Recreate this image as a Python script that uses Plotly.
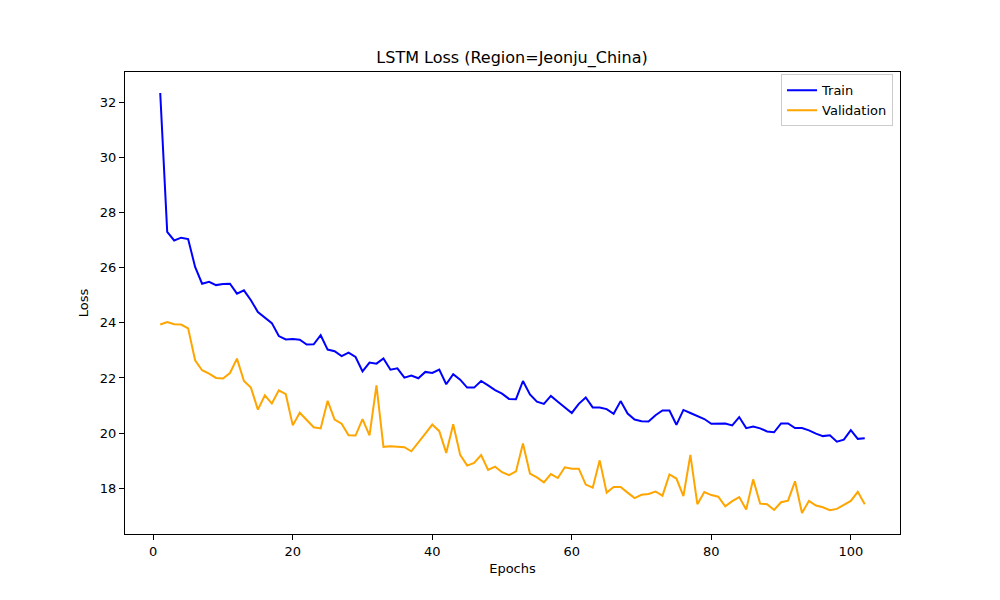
import plotly.graph_objects as go

epochs = list(range(1, 103))

train_loss = [
    32.34, 27.30, 26.99, 27.09, 27.04, 26.03, 25.42, 25.49, 25.37, 25.41,
    25.42, 25.06, 25.18, 24.82, 24.39, 24.19, 23.99, 23.52, 23.40, 23.41,
    23.39, 23.21, 23.22, 23.55, 23.03, 22.97, 22.79, 22.92, 22.76, 22.24,
    22.56, 22.52, 22.71, 22.30, 22.35, 22.01, 22.09, 21.99, 22.22, 22.18,
    22.30, 21.77, 22.14, 21.94, 21.65, 21.65, 21.89, 21.73, 21.56, 21.43,
    21.24, 21.23, 21.89, 21.40, 21.14, 21.06, 21.35, 21.14, 20.94, 20.73,
    21.06, 21.29, 20.93, 20.93, 20.87, 20.70, 21.16, 20.71, 20.49, 20.43,
    20.42, 20.65, 20.82, 20.82, 20.30, 20.84, 20.73, 20.61, 20.51, 20.34,
    20.35, 20.35, 20.28, 20.58, 20.18, 20.24, 20.17, 20.06, 20.03, 20.35,
    20.35, 20.18, 20.18, 20.10, 19.98, 19.89, 19.92, 19.69, 19.76, 20.11,
    19.79, 19.81,
]

val_loss = [
    23.94, 24.03, 23.95, 23.94, 23.80, 22.64, 22.28, 22.16, 22.00, 21.98,
    22.18, 22.70, 21.89, 21.65, 20.85, 21.37, 21.07, 21.55, 21.41, 20.28,
    20.74, 20.47, 20.21, 20.17, 21.17, 20.49, 20.34, 19.92, 19.91, 20.51,
    19.92, 21.73, 19.50, 19.52, 19.50, 19.49, 19.34, 19.64, 19.98, 20.31,
    20.07, 19.28, 20.32, 19.21, 18.82, 18.92, 19.20, 18.66, 18.78, 18.58,
    18.47, 18.61, 19.62, 18.53, 18.39, 18.21, 18.51, 18.37, 18.76, 18.71,
    18.71, 18.13, 18.02, 19.01, 17.84, 18.04, 18.04, 17.84, 17.64, 17.76,
    17.79, 17.88, 17.73, 18.50, 18.35, 17.71, 19.21, 17.42, 17.86, 17.75,
    17.69, 17.34, 17.53, 17.68, 17.23, 18.32, 17.44, 17.42, 17.21, 17.49,
    17.55, 18.25, 17.10, 17.54, 17.37, 17.31, 17.20, 17.25, 17.39, 17.54,
    17.87, 17.42,
]

fig = go.Figure()
fig.add_trace(go.Scatter(x=epochs, y=train_loss, mode='lines', name='Train',
                         line=dict(color='blue', width=2)))
fig.add_trace(go.Scatter(x=epochs, y=val_loss, mode='lines', name='Validation',
                         line=dict(color='orange', width=2)))

# matplotlib-like axis limits (5% margins)
lo = min(min(train_loss), min(val_loss))
hi = max(max(train_loss), max(val_loss))
ypad = (hi - lo) * 0.05
xpad = (epochs[-1] - epochs[0]) * 0.05

axis_style = dict(
    showline=True, linecolor='black', linewidth=1, mirror=True,
    ticks='outside', ticklen=5, tickcolor='black', showgrid=False,
    zeroline=False, tickfont=dict(size=13, color='black'),
)

# page body has an 8px offset, so margins are shifted up/left by 8
fig.update_layout(
    width=1000, height=600,
    paper_bgcolor='white', plot_bgcolor='white',
    font=dict(family='DejaVu Sans', color='black'),
    margin=dict(l=117, r=108, t=64, b=74),
    title=dict(text='LSTM Loss (Region=Jeonju_China)', x=0.504, xanchor='center',
               y=0.908, yanchor='bottom', font=dict(size=16)),
    xaxis=dict(title=dict(text='Epochs', font=dict(size=13), standoff=6),
               range=[epochs[0] - xpad, epochs[-1] + xpad],
               tickvals=[0, 20, 40, 60, 80, 100], **axis_style),
    yaxis=dict(title=dict(text='Loss', font=dict(size=13), standoff=8),
               range=[lo - ypad, hi + ypad],
               tickvals=[18, 20, 22, 24, 26, 28, 30, 32], **axis_style),
    legend=dict(x=0.991, y=0.995, xanchor='right', yanchor='top',
                bordercolor='#cccccc', borderwidth=1, bgcolor='rgba(255,255,255,0.8)',
                font=dict(size=13)),
    showlegend=True,
)

fig.write_html("out.html")
